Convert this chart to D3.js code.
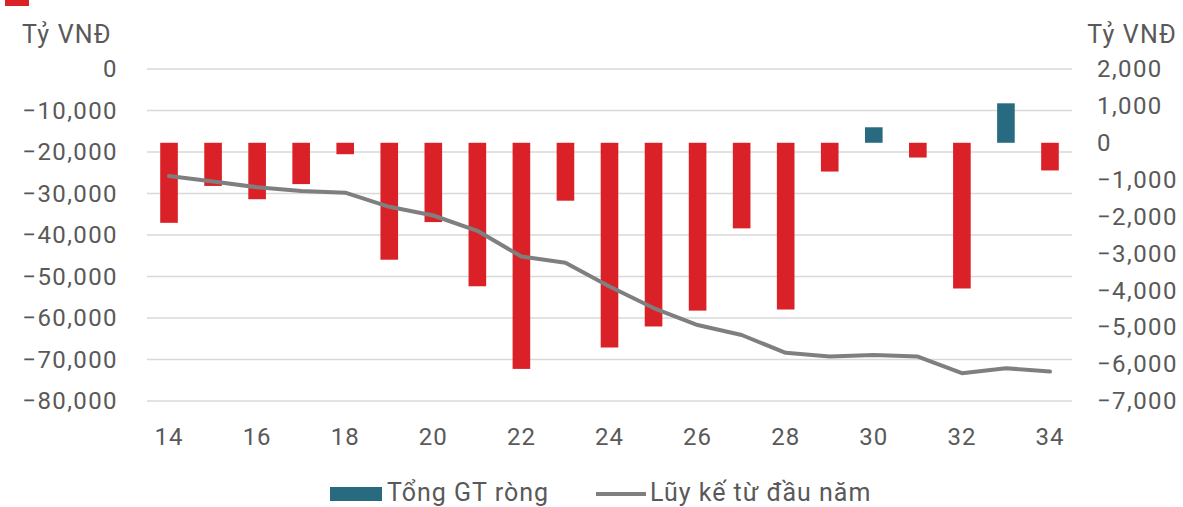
<!DOCTYPE html>
<html>
<head>
<meta charset="utf-8">
<script src="https://cdn.jsdelivr.net/npm/d3@7"></script>
<style>
  body { margin: 0; background: #fff; }
  text { font-family: Roboto, "Open Sans", sans-serif; fill: #595959; }
</style>
</head>
<body>
<div id="chart-area"></div>
<script>
// weekly net value (right axis) and cumulative since start of year (left axis)
var weeks = [14, 15, 16, 17, 18, 19, 20, 21, 22, 23, 24, 25, 26, 27, 28, 29, 30, 31, 32, 33, 34];
var weeklyNet = [-2170, -1170, -1530, -1120, -310, -3170, -2150, -3890, -6130, -1570,
                 -5550, -4980, -4550, -2320, -4520, -780, 420, -400, -3950, 1070, -750];
var cumulative = [-25800, -27100, -28500, -29400, -29800, -33200, -35300, -39000, -45200, -46700,
                  -52400, -57600, -61700, -64100, -68400, -69300, -68900, -69300, -73300, -72100, -72900];
var leftTicks = [0, -10000, -20000, -30000, -40000, -50000, -60000, -70000, -80000];
var rightTicks = [2000, 1000, 0, -1000, -2000, -3000, -4000, -5000, -6000, -7000];
var xLabels = [14, 16, 18, 20, 22, 24, 26, 28, 30, 32, 34];
var unitLabel = "Tỷ VNĐ";
var legendNames = ["Tổng GT ròng", "Lũy kế từ đầu năm"];

var W = 1183, H = 507;
var red = "#da2128", teal = "#286b80", grey = "#7f7f7f";

var svg = d3.select("#chart-area")
  .append("svg")
    .attr("width", W)
    .attr("height", H);

var x = d3.scaleBand()
    .domain(weeks)
    .range([147, 1072])
    .paddingInner(0.6)
    .paddingOuter(0.3);

var yLeft = d3.scaleLinear()
    .domain([-80000, 0])
    .range([401, 69]);

var yRight = d3.scaleLinear()
    .domain([-7000, 2000])
    .range([401, 69]);

var fmt = d3.format(",");

// gridlines (follow left axis)
svg.append("g")
  .selectAll("line")
  .data(leftTicks)
  .enter()
  .append("line")
    .attr("x1", 147)
    .attr("x2", 1072)
    .attr("y1", (d) => yLeft(d))
    .attr("y2", (d) => yLeft(d))
    .attr("stroke", "#d9d9d9")
    .attr("stroke-width", 1.4);

// left axis
var leftAxis = d3.axisLeft(yLeft)
    .tickValues(leftTicks)
    .tickSize(0)
    .tickPadding(0)
    .tickFormat((d) => fmt(d));
var gl = svg.append("g")
    .attr("transform", "translate(118,0)")
    .call(leftAxis);
gl.select(".domain").remove();
gl.selectAll("text")
    .attr("font-size", "24px")
    .attr("letter-spacing", "1.4px")
    .attr("fill", "#595959")
    .attr("font-family", "Roboto, sans-serif");

// right axis
var rightAxis = d3.axisRight(yRight)
    .tickValues(rightTicks)
    .tickSize(0)
    .tickPadding(0)
    .tickFormat((d) => fmt(d));
var gr = svg.append("g")
    .attr("transform", "translate(1097,0)")
    .call(rightAxis);
gr.select(".domain").remove();
gr.selectAll("text")
    .attr("font-size", "24px")
    .attr("letter-spacing", "1.4px")
    .attr("fill", "#595959")
    .attr("font-family", "Roboto, sans-serif");

// bottom axis
var bottomAxis = d3.axisBottom(x)
    .tickValues(xLabels)
    .tickSize(0)
    .tickPadding(0);
var gb = svg.append("g")
    .attr("transform", "translate(0,428)")
    .call(bottomAxis);
gb.select(".domain").remove();
gb.selectAll("text")
    .attr("dy", "0.71em")
    .attr("font-size", "24px")
    .attr("letter-spacing", "1px")
    .attr("fill", "#595959")
    .attr("font-family", "Roboto, sans-serif");

// bars
svg.append("g")
  .selectAll("rect")
  .data(weeks)
  .enter()
  .append("rect")
    .attr("x", (d) => x(d))
    .attr("width", x.bandwidth())
    .attr("y", (d, i) => yRight(Math.max(0, weeklyNet[i])))
    .attr("height", (d, i) => Math.abs(yRight(weeklyNet[i]) - yRight(0)))
    .attr("fill", (d, i) => weeklyNet[i] >= 0 ? teal : red);

// cumulative line
var line = d3.line()
    .x((d, i) => x(weeks[i]) + x.bandwidth() / 2)
    .y((d) => yLeft(d));
svg.append("path")
    .datum(cumulative)
    .attr("d", line)
    .attr("fill", "none")
    .attr("stroke", grey)
    .attr("stroke-width", 4)
    .attr("stroke-linejoin", "round")
    .attr("stroke-linecap", "round");

// unit labels
svg.append("text")
    .attr("x", 22)
    .attr("y", 43)
    .attr("font-size", "25px")
    .attr("letter-spacing", "1.2px")
    .text(unitLabel);
svg.append("text")
    .attr("x", 1177)
    .attr("y", 43)
    .attr("font-size", "25px")
    .attr("letter-spacing", "1.2px")
    .attr("text-anchor", "end")
    .text(unitLabel);

// red marker from cropped title
svg.append("rect")
    .attr("x", 5).attr("y", 0)
    .attr("width", 24).attr("height", 6)
    .attr("fill", red);

// legend
var lg = svg.append("g");
lg.append("rect")
    .attr("x", 330).attr("y", 487)
    .attr("width", 52).attr("height", 14)
    .attr("fill", teal);
lg.append("text")
    .attr("x", 387).attr("y", 501)
    .attr("font-size", "25px")
    .attr("letter-spacing", "1px")
    .text(legendNames[0]);
lg.append("line")
    .attr("x1", 596).attr("x2", 646)
    .attr("y1", 494).attr("y2", 494)
    .attr("stroke", grey)
    .attr("stroke-width", 4);
lg.append("text")
    .attr("x", 650).attr("y", 501)
    .attr("font-size", "25px")
    .attr("letter-spacing", "1px")
    .text(legendNames[1]);
</script>
</body>
</html>
